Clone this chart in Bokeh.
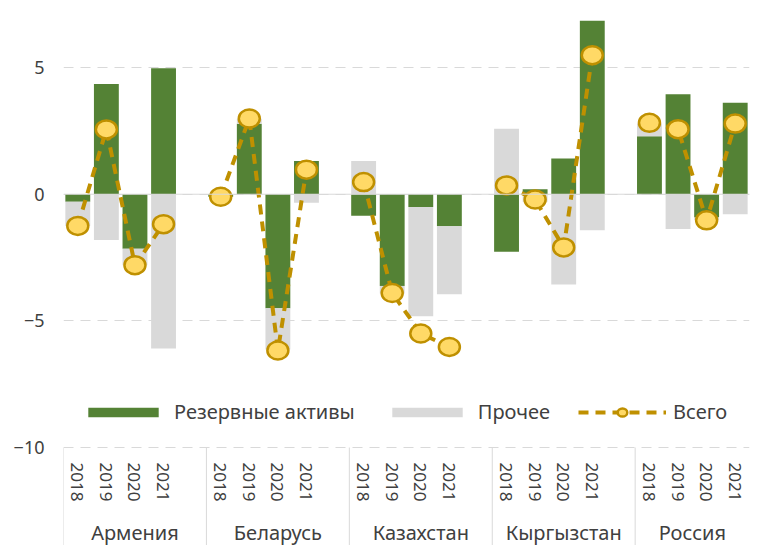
from bokeh.plotting import figure
from bokeh.models import (FactorRange, FixedTicker, Span, Legend, LegendItem,
                          ColumnDataSource, Range1d)
from bokeh.embed import file_html
from bokeh.resources import INLINE

countries = ["Армения", "Беларусь", "Казахстан", "Кыргызстан", "Россия"]
years = ["2018", "2019", "2020", "2021"]

# Резервные активы (per country, years 2018-2021)
reserve = [-0.30, 4.35, -2.15, 4.97,
           -0.10, 2.78, -4.50, 1.31,
           -0.85, -3.62, -0.50, -1.26,
           -2.27, 0.20, 1.41, 6.85,
           2.29, 3.95, -0.92, 3.61]
# Прочее
other = [-0.95, -1.81, -0.65, -6.09,
         0.00, 0.20, -1.63, -0.34,
         1.31, -0.30, -4.32, -2.69,
         2.59, -0.30, -3.56, -1.42,
         0.50, -1.37, -0.10, -0.79]
# Всего
total = [-1.25, 2.56, -2.80, -1.18,
         -0.10, 2.99, -6.17, 0.97,
         0.48, -3.90, -5.50, -6.03,
         0.35, -0.21, -2.10, 5.49,
         2.82, 2.57, -1.03, 2.79]

y_ticks = [-10, -5, 0, 5]
Y_AXIS_MIN, Y_MAX = -10, 7.65

TEXT = "#404040"
FONT = "Noto Sans"
GREEN = "#548235"
GREY = "#D9D9D9"
GOLD = "#BF9000"
GOLD_FILL = "#FFD966"

W, H = 752, 545
AXIS_PX = 98                      # height of the category box below the -10 line
PX_PER_UNIT = (H - AXIS_PX) / (Y_MAX - Y_AXIS_MIN)
Y_FRAME_MIN = Y_AXIS_MIN - AXIS_PX / PX_PER_UNIT

factors = []
for i, c in enumerate(countries):
    for y in years:
        factors.append((c, y))
    if i < len(countries) - 1:
        factors.append((c, " "))

x = [(c, y) for c in countries for y in years]

g_bottom = [0.0] * len(reserve)
g_top = list(reserve)
o_bottom = [r if (r * o > 0) else 0.0 for r, o in zip(reserve, other)]
o_top = [b + o for b, o in zip(o_bottom, other)]

src = ColumnDataSource(dict(x=x, gb=g_bottom, gt=g_top, ob=o_bottom, ot=o_top, total=total))

p = figure(width=W, height=H, output_backend="svg", toolbar_location=None,
           x_range=FactorRange(*factors, factor_padding=0, group_padding=0,
                               subgroup_padding=0, range_padding=0),
           y_range=Range1d(Y_FRAME_MIN, Y_MAX),
           min_border_left=63, min_border_right=3, min_border_top=0,
           min_border_bottom=0)
p.outline_line_color = None
p.background_fill_color = "white"

gr = p.vbar(x="x", top="gt", bottom="gb", width=0.87, source=src,
            fill_color=GREEN, line_color=None)
orr = p.vbar(x="x", top="ot", bottom="ob", width=0.87, source=src,
             fill_color=GREY, line_color=None)

xs = [[(c, y) for y in years] for c in countries]
ys = [total[i * 4:(i + 1) * 4] for i in range(len(countries))]
ml = p.multi_line(xs=xs, ys=ys, line_color=GOLD, line_width=4, line_dash="10 7")
el = p.ellipse(x="x", y="total", width=21, height=18, width_units="screen",
               height_units="screen", source=src, fill_color=GOLD_FILL,
               line_color=GOLD, line_width=2.5)

p.add_layout(Span(location=0, dimension="width", line_color=GREY, line_width=1), "center")

# category separators running through the axis box
sep_x = [(c, years[0], -0.5) for c in countries]
p.segment(x0=sep_x, x1=sep_x, y0=[Y_AXIS_MIN] * len(sep_x), y1=[Y_FRAME_MIN] * len(sep_x),
          line_color=GREY, line_width=1)

# y axis
p.yaxis.ticker = FixedTicker(ticks=y_ticks)
p.yaxis.axis_line_color = None
p.yaxis.major_tick_line_color = None
p.yaxis.minor_tick_line_color = None
p.yaxis.major_tick_out = 0
p.yaxis.major_tick_in = 0
p.yaxis.major_label_standoff = 19
p.yaxis.major_label_text_font = FONT
p.yaxis.major_label_text_font_size = "18px"
p.yaxis.major_label_text_color = TEXT

p.ygrid.ticker = FixedTicker(ticks=y_ticks)
p.ygrid.grid_line_color = GREY
p.ygrid.grid_line_dash = "10 7"
p.ygrid.grid_line_width = 1
p.xgrid.grid_line_color = None

# x axis drawn at the -10 line
xa = p.xaxis[0]
xa.fixed_location = Y_AXIS_MIN
xa.axis_line_color = None
xa.major_tick_line_color = None
xa.minor_tick_line_color = None
xa.major_tick_out = 0
xa.major_tick_in = 0
xa.major_label_orientation = "vertical"
xa.major_label_standoff = 15
xa.major_label_text_font = FONT
xa.major_label_text_font_size = "17px"
xa.major_label_text_color = TEXT
xa.group_text_font = FONT
xa.group_text_font_size = "20px"
xa.group_text_color = TEXT
xa.group_text_font_style = "normal"
xa.separator_line_color = None

legend = Legend(items=[LegendItem(label="Резервные активы", renderers=[gr]),
                       LegendItem(label="Прочее", renderers=[orr]),
                       LegendItem(label="Всего", renderers=[ml, el])],
                orientation="horizontal", location=(16, 22 + AXIS_PX),
                glyph_width=88, glyph_height=12, label_standoff=7, spacing=28,
                padding=0, margin=0, border_line_color=None, background_fill_alpha=0,
                label_text_font=FONT, label_text_font_size="20px", label_text_color=TEXT)
p.add_layout(legend, "center")

open("out.html", "w").write(file_html(p, INLINE))
